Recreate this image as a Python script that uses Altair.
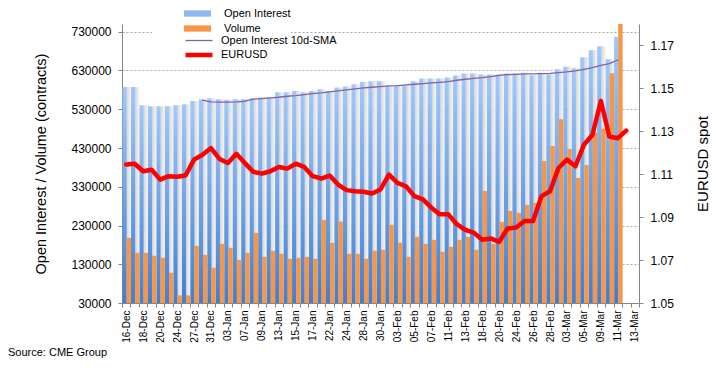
import altair as alt
import pandas as pd

dates = ["16-Dec", "17-Dec", "18-Dec", "19-Dec", "20-Dec", "23-Dec", "24-Dec", "26-Dec", "27-Dec", "30-Dec",
         "31-Dec", "02-Jan", "03-Jan", "06-Jan", "07-Jan", "08-Jan", "09-Jan", "10-Jan", "13-Jan", "14-Jan",
         "15-Jan", "16-Jan", "17-Jan", "21-Jan", "22-Jan", "23-Jan", "24-Jan", "27-Jan", "28-Jan", "29-Jan",
         "30-Jan", "31-Jan", "03-Feb", "04-Feb", "05-Feb", "06-Feb", "07-Feb", "10-Feb", "11-Feb", "12-Feb",
         "13-Feb", "14-Feb", "18-Feb", "19-Feb", "20-Feb", "21-Feb", "24-Feb", "25-Feb", "26-Feb", "27-Feb",
         "28-Feb", "02-Mar", "03-Mar", "04-Mar", "05-Mar", "06-Mar", "09-Mar", "10-Mar", "11-Mar", "12-Mar",
         "13-Mar"]
labeled = dates[::2]

open_interest = [587600, 587600, 540400, 538000, 538000, 538000, 540400, 543000, 551600, 556000,
                 558500, 556000, 554200, 556000, 556000, 558500, 560200, 560200, 573900, 573900,
                 577300, 573900, 577300, 581600, 577300, 586000, 588500, 594500, 600500, 602200,
                 602200, 590200, 590200, 592800, 602200, 609100, 609100, 609100, 611700, 616800,
                 622000, 622000, 619400, 619400, 615500, 622000, 622800, 624500, 617700, 624500,
                 620200, 633100, 640000, 635700, 664000, 682000, 692300, 658900, 717200]

volume = [198000, 159500, 159500, 152000, 146700, 108000, 49700, 49700, 177600, 154400,
          121000, 182700, 172400, 141500, 159500, 211000, 149200, 164700, 157000, 144100,
          146700, 149200, 144100, 244500, 185300, 240200, 157000, 157000, 144100, 164700,
          167300, 231600, 185300, 149200, 200700, 182700, 193000, 162100, 175000, 193000,
          200700, 167300, 319100, 182700, 239300, 267600, 262500, 283100, 288200, 396300,
          434900, 504400, 427100, 352600, 386000, 470000, 480000, 622800, 750000]

# 10d-SMA starts at the 10th session
sma_start = 9
oi_sma = [553300, 549000, 548200, 548200, 549000, 550700, 555900, 557600, 559300, 561000,
          563600, 565300, 567900, 570500, 572200, 574800, 577300, 579900, 582500, 585100,
          586800, 588500, 590200, 591100, 592800, 594500, 596200, 597900, 599600, 601400,
          604800, 607400, 609900, 611700, 614200, 617700, 619400, 620200, 621100, 621100,
          621900, 622800, 624500, 626200, 628800, 633100, 637400, 643400, 647700, 657100]

eurusd = [1.1145, 1.1149, 1.1114, 1.1121, 1.1075, 1.1091, 1.1088, 1.1094, 1.1168, 1.1191,
          1.1222, 1.1171, 1.1152, 1.1195, 1.1152, 1.1111, 1.1103, 1.1114, 1.1134, 1.1126,
          1.1149, 1.1134, 1.1091, 1.1080, 1.1094, 1.1052, 1.1026, 1.1021, 1.1018, 1.1010,
          1.1029, 1.1098, 1.1060, 1.1044, 1.0998, 1.0983, 1.0944, 1.0913, 1.0913, 1.0867,
          1.0841, 1.0828, 1.0795, 1.0801, 1.0785, 1.0847, 1.0852, 1.0882, 1.0882, 1.0998,
          1.1021, 1.1129, 1.1168, 1.1137, 1.1237, 1.1283, 1.1441, 1.1276, 1.1268, 1.1303]

left_ticks = [30000, 130000, 230000, 330000, 430000, 530000, 630000, 730000]
right_ticks = [1.05, 1.07, 1.09, 1.11, 1.13, 1.15, 1.17]

bars_df = pd.DataFrame({"date": dates[:len(open_interest)], "oi": open_interest, "vol": volume})
sma_df = pd.DataFrame({"date": dates[sma_start:sma_start + len(oi_sma)], "sma": oi_sma})
eur_df = pd.DataFrame({"date": dates[:len(eurusd)], "eur": eurusd})

FONT = "Liberation Sans"
AXC = "#868686"
BLUE_TOP, BLUE_BOT = "#a2c8f8", "#3a7bcf"
ORANGE = "#f79646"
PURPLE = "#8064a2"
RED = "#ff0000"

labeled_js = "[" + ",".join("'" + d + "'" for d in labeled) + "]"

x_enc = alt.X(
    "date:N", sort=dates,
    scale=alt.Scale(domain=dates, paddingInner=0, paddingOuter=0),
    axis=alt.Axis(title=None, tickBand="extent", labelAngle=270, labelFontSize=10,
                  labelOverlap=False, labelPadding=3, labelLimit=300, tickSize=4,
                  tickColor=AXC, domainColor=AXC, labelColor="black",
                  labelExpr=f"indexof({labeled_js}, datum.label) >= 0 ? datum.label : ''"),
)

left_scale = alt.Scale(domain=[30000, 750000], nice=False, zero=False)
right_scale = alt.Scale(domain=[1.05, 1.18], nice=False, zero=False)

left_axis = alt.Axis(title="Open Interest / Volume (contracts)", orient="left", values=left_ticks,
                     format="d", grid=True, gridDash=[2, 2], gridColor="#a6a6a6", tickSize=4,
                     tickColor=AXC, domainColor=AXC, labelFontSize=12, labelPadding=7,
                     labelColor="black", titleFontSize=14.5, titleFontWeight="normal",
                     titleColor="black", titlePadding=22)
right_axis = alt.Axis(title="EURUSD spot", orient="right", values=right_ticks, format=".2f",
                      grid=False, tickSize=4, tickColor=AXC, domainColor=AXC, labelFontSize=12,
                      labelPadding=7, labelColor="black", titleFontSize=15,
                      titleFontWeight="normal", titleColor="black", titlePadding=37,
                      titleAngle=270)

bar_legend = alt.Legend(title=None, orient="none", legendX=30, legendY=-16, direction="vertical",
                        symbolType="M-3,-0.7L3,-0.7L3,0.7L-3,0.7Z", symbolSize=81,
                        symbolOffset=40, symbolStrokeWidth=0, labelOffset=21, labelFontSize=11,
                        labelColor="black", labelFont=FONT, rowPadding=3, symbolOpacity=1,
                        fillColor="white", padding=0)
line_legend = alt.Legend(title=None, orient="none", legendX=70, legendY=11, direction="vertical",
                         symbolType="M-3,0L3,0", symbolSize=81, labelOffset=15, labelFontSize=11,
                         labelColor="black", labelFont=FONT, rowPadding=0, symbolOpacity=1)

line_dom = ["Open Interest 10d-SMA", "EURUSD"]
stroke_scale = alt.Scale(domain=line_dom, range=[PURPLE, RED])
width_scale = alt.Scale(domain=line_dom, range=[1.3, 4.5])

shadow = alt.Chart(bars_df).mark_bar(
    width=4.4, xOffset=2.7, clip=True,
    color=alt.Gradient(gradient="linear",
                       stops=[alt.GradientStop(color="#d6d6d6", offset=0),
                              alt.GradientStop(color="#f8f8f8", offset=1)],
                       x1=0, x2=1, y1=0, y2=0),
).encode(x=x_enc, y=alt.Y("oi:Q", scale=left_scale, axis=left_axis))

blue = alt.Chart(bars_df).mark_bar(
    width=4.2, xOffset=-1.6, clip=True,
    color=alt.Gradient(gradient="linear",
                       stops=[alt.GradientStop(color=BLUE_TOP, offset=0),
                              alt.GradientStop(color=BLUE_BOT, offset=1)],
                       x1=0, x2=0, y1=0, y2=1),
).encode(x=x_enc, y=alt.Y("oi:Q", scale=left_scale, axis=None))

orange = alt.Chart(bars_df).transform_calculate(bars="'Volume'").mark_bar(
    width=4.4, xOffset=2.6, clip=True,
).encode(
    x=x_enc,
    y=alt.Y("vol:Q", scale=left_scale, axis=None),
    fill=alt.Fill("bars:N", scale=alt.Scale(domain=["Open Interest", "Volume"],
                                            range=["#8db8f1", ORANGE]),
                  legend=bar_legend),
)

sma_line = alt.Chart(sma_df).transform_calculate(line="'Open Interest 10d-SMA'").mark_line(
    strokeJoin="round", strokeCap="round",
).encode(
    x=x_enc,
    y=alt.Y("sma:Q", scale=left_scale, axis=None),
    stroke=alt.Stroke("line:N", scale=stroke_scale, legend=line_legend),
    strokeWidth=alt.StrokeWidth("line:N", scale=width_scale, legend=line_legend),
)

eur_line = alt.Chart(eur_df).transform_calculate(line="'EURUSD'").mark_line(
    strokeJoin="round", strokeCap="round",
).encode(
    x=x_enc,
    y=alt.Y("eur:Q", scale=right_scale, axis=right_axis),
    stroke=alt.Stroke("line:N", scale=stroke_scale, legend=line_legend),
    strokeWidth=alt.StrokeWidth("line:N", scale=width_scale, legend=line_legend),
)

chart = alt.layer(shadow, blue, orange, sma_line, eur_line).resolve_scale(
    y="independent"
).properties(
    width=517, height=279,
    autosize=alt.AutoSizeParams(type="none"),
    padding={"left": 114, "top": 16, "right": 71, "bottom": 57},
    title=alt.TitleParams("Source: CME Group", orient="bottom", anchor="start", frame="group",
                          dx=-114, offset=5, fontSize=11, fontWeight="normal", color="black",
                          font=FONT),
).configure(font=FONT).configure_view(stroke=None)

chart.save("out.html", embed_options={"renderer": "svg", "actions": False})
